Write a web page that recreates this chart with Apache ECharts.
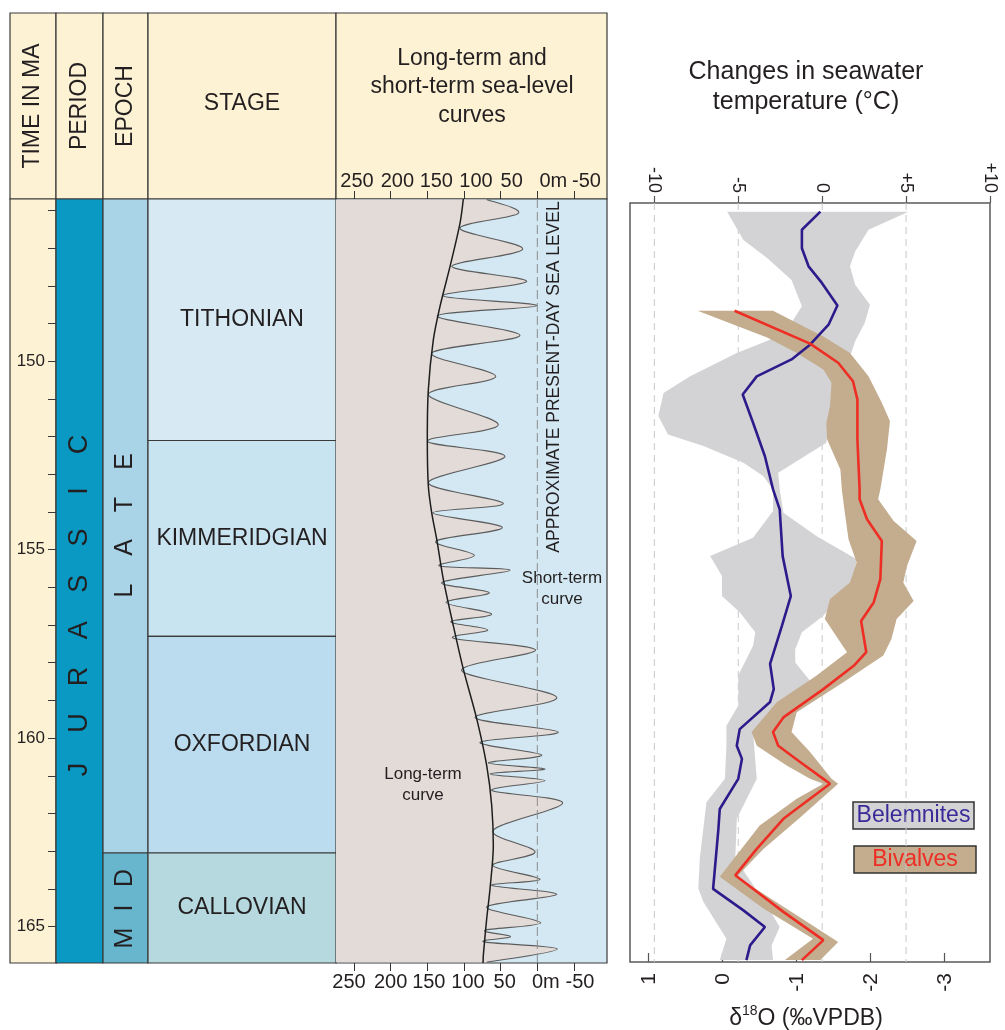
<!DOCTYPE html>
<html><head><meta charset="utf-8">
<script src="https://cdn.jsdelivr.net/npm/echarts@6/dist/echarts.min.js"></script>
<style>html,body{margin:0;padding:0;background:#fff}#c{width:1005px;height:1030px}</style>
</head><body><div id="c"></div>
<script>
// ---------------- DATA ----------------
const timeTicks = [146,147,148,149,150,151,152,153,154,155,156,157,158,159,160,161,162,163,164,165];
const timeLabels = [150,155,160,165];

const periodNames = ['JURASSIC'];
const periodTop = [145.0];
const periodBase = [201.3];

const epochNames = ['LATE','MID'];
const epochTop = [145.0, 163.05];
const epochBase = [163.05, 174.1];

const stageNames = ['TITHONIAN','KIMMERIDGIAN','OXFORDIAN','CALLOVIAN'];
const stageTop = [145.0, 152.1, 157.3, 163.05];
const stageBase = [152.1, 157.3, 163.05, 166.1];

const seaLevelTicks = [250,200,150,100,50,0,-50];

const longTermMa = [145.69,146.33,147.48,148.54,149.43,150.75,152.07,153.31,154.02,154.72,155.78,157.02,158.17,159.49,160.73,161.79,162.85,164.0,164.79,165.76,165.97];
const longTermM  = [100.9,105.4,119.0,132.7,141.8,148.6,150.0,148.6,144.0,137.2,128.2,114.5,100.9,82.6,69.0,62.2,60.0,64.5,69.0,73.6,74.0];

const shortTermMa = [145.70,146.07,146.47,147.02,147.48,147.88,148.26,148.52,148.79,149.31,149.78,150.40,150.88,151.68,152.12,152.52,153.22,153.77,154.02,154.41,154.77,155.15,155.43,155.54,155.87,156.14,156.40,156.71,156.91,157.13,157.35,157.66,158.21,158.92,159.45,159.84,160.11,160.45,160.66,160.82,160.95,161.13,161.39,161.72,162.45,163.02,163.38,163.75,163.91,164.15,164.48,164.90,165.10,165.27,165.41,165.60,165.95];
const shortTermM  = [69.0,25.9,105.4,19.9,116.7,14.5,129.0,0.8,136.4,23.6,144.0,56.7,148.6,53.2,150.0,44.0,148.6,46.4,142.6,47.7,138.1,85.9,133.6,37.2,130.4,65.5,124.5,62.2,118.1,67.6,114.5,2.2,103.1,-26.5,85.0,-28.6,78.1,-6.0,66.8,-10.5,64.5,-10.5,62.2,-34.6,60.0,3.1,60.8,-3.7,62.2,-26.5,69.0,-4.6,71.3,36.3,72.7,-27.3,69.0];

const d18OTicks = [1,0,-1,-2,-3];
const tempTicks = [-10,-5,0,5,10];
const tempGridLines = [-10,-5,0,5];

const belemMa = [146.03,146.51,147.0,147.48,147.92,148.52,149.03,149.56,149.95,150.40,150.88,151.63,152.52,153.40,153.93,155.17,156.23,157.02,158.03,158.70,159.04,159.76,160.20,160.55,161.08,161.88,162.45,164.0,164.57,165.01,165.50,165.89];
const belemD  = [-1.32,-1.07,-1.07,-1.16,-1.34,-1.55,-1.43,-1.18,-0.93,-0.46,-0.27,-0.41,-0.57,-0.68,-0.77,-0.81,-0.92,-0.80,-0.64,-0.69,-0.64,-0.23,-0.19,-0.26,-0.21,0.04,0.06,0.13,-0.28,-0.57,-0.37,-0.32];

const bivalMa = [148.66,149.53,150.04,150.53,151.01,152.07,153.40,153.66,154.19,154.77,155.78,156.40,156.89,157.72,158.08,158.70,159.45,159.84,160.20,160.64,161.08,161.21,162.14,162.94,163.64,164.61,165.36,165.89];
const bivalD  = [-0.16,-1.18,-1.56,-1.76,-1.82,-1.82,-1.85,-1.85,-1.95,-2.15,-2.13,-2.04,-1.87,-1.94,-1.77,-1.36,-0.82,-0.68,-0.75,-1.05,-1.36,-1.45,-0.82,-0.46,-0.17,-0.82,-1.36,-1.07];

// uncertainty envelopes: [d18O, Ma]
const belemBandLeft = [[-0.06,146.03],[-0.28,146.78],[-0.60,147.26],[-0.93,147.84],[-1.07,148.54],[-0.93,148.98],[-0.64,149.43],[-0.19,149.78],[0.44,150.40],[0.80,150.84],[0.87,151.45],[0.74,151.94],[0.26,152.25],[-0.28,152.69],[-0.55,153.05],[-0.68,153.40],[-0.68,153.97],[-0.41,154.68],[0.17,155.17],[0.01,155.70],[0.01,156.23],[-0.23,156.66],[-0.44,157.19],[-0.41,157.55],[-0.21,158.34],[-0.21,159.14],[-0.05,159.67],[-0.05,160.20],[-0.03,161.08],[0.22,161.70],[0.31,163.20],[0.33,163.99],[0.26,164.35],[-0.05,165.32],[0.04,165.89]];
const belemBandRight = [[-2.51,146.03],[-1.97,146.51],[-1.79,147.09],[-1.72,147.48],[-1.79,147.97],[-1.99,148.50],[-1.92,148.98],[-1.79,149.47],[-1.72,149.87],[-1.49,150.40],[-1.47,151.10],[-1.40,152.16],[-0.75,152.96],[-0.77,153.40],[-0.82,154.02],[-1.27,154.64],[-1.81,155.25],[-1.77,155.78],[-1.36,156.75],[-1.07,157.19],[-0.98,157.64],[-0.98,157.99],[-1.18,158.48],[-1.09,158.87],[-0.62,159.31],[-0.41,159.84],[-0.46,161.08],[-0.19,162.14],[-0.17,163.20],[-0.60,164.44],[-0.77,165.01],[-0.66,165.50],[-0.68,165.89]];
const bivalBandLeft = [[0.34,148.66],[-0.60,149.37],[-1.00,149.78],[-1.36,150.22],[-1.47,150.57],[-1.45,151.19],[-1.40,151.63],[-1.41,152.07],[-1.59,152.87],[-1.61,153.40],[-1.65,154.02],[-1.70,154.72],[-1.81,155.34],[-1.72,155.87],[-1.45,156.31],[-1.38,156.84],[-1.68,157.72],[-1.27,158.34],[-0.73,159.05],[-0.39,159.84],[-0.46,160.20],[-0.87,160.73],[-1.18,161.08],[-1.36,161.21],[-1.00,161.61],[-0.50,162.32],[0.04,163.68],[-0.55,164.52],[-1.22,165.32],[-0.84,165.89]];
const bivalBandRight = [[-0.68,148.66],[-1.36,149.34],[-1.72,149.78],[-1.97,150.40],[-2.15,151.10],[-2.26,151.59],[-2.22,152.33],[-2.13,153.40],[-2.10,153.66],[-2.31,154.24],[-2.62,154.77],[-2.49,155.43],[-2.44,155.87],[-2.58,156.36],[-2.35,156.84],[-2.28,157.37],[-2.17,157.81],[-1.63,158.52],[-1.00,159.31],[-0.93,159.84],[-1.18,160.37],[-1.47,161.08],[-1.56,161.21],[-1.05,162.10],[-0.55,162.94],[-0.19,163.68],[-1.00,164.70],[-1.56,165.41],[-1.32,165.89]];

// ---------------- STYLE ----------------
const FONT = '"Liberation Sans", Arial, sans-serif';
const INK = '#231f20';
const LINE = '#3a3a3a';
const CREAM = '#fdf2d4';
const periodColors = ['#0a99c2'];
const epochColors = ['#a9d4e7', '#67b6cd'];
const stageColors = ['#d7eaf4', '#c9e4f1', '#badcee', '#b6d9df'];
const SEA_BG = '#d3e8f2';
const BEIGE = '#e2dbd8';
const GREY_BAND = '#d3d3d5';
const TAN_BAND = '#c3ad8e';
const BLUE = '#2d1b8c';
const RED = '#ee2d24';
const TEMP_LABEL_SIZE = 18;
// horizontal label nudges (px) for the sea-level scale, matching the original typesetting
const seaTopLabelShift = [3, 6.7, 9, 12, 11, 16, 12.5];
const seaBottomLabelShift = [-5, 0, 1.5, 4, 4, 8.5, 6];

const timeMin = 145.69, timeMax = 165.97;
const rTimeMin = 145.80, rTimeMax = 165.94;

function makeCellRender(names, tops, bases, colors, opt) {
  return function (params, api) {
    const i = params.dataIndex;
    const cs = params.coordSys;
    const yA = Math.max(api.coord([0, tops[i]])[1], cs.y);
    const yB = Math.min(api.coord([0, bases[i]])[1], cs.y + cs.height);
    const children = [{
      type: 'rect',
      shape: { x: cs.x, y: yA, width: cs.width, height: yB - yA },
      style: { fill: colors[i], stroke: LINE, lineWidth: 1.2 }
    }];
    const cx = cs.x + cs.width / 2;
    const cy = (yA + yB) / 2 + (opt.shift ? opt.shift[i] : 0);
    if (opt.step) {
      const letters = names[i].split('');
      const n = letters.length;
      letters.forEach(function (ch, k) {
        children.push({
          type: 'text', x: cx, y: cy + ((n - 1) / 2 - k) * opt.step[i], rotation: Math.PI / 2,
          style: { text: ch, fill: INK, fontSize: opt.fontSize, fontFamily: FONT, align: 'center', verticalAlign: 'middle' }
        });
      });
    } else {
      children.push({
        type: 'text', x: cx, y: cy,
        style: { text: names[i], fill: INK, fontSize: opt.fontSize, fontFamily: FONT, align: 'center', verticalAlign: 'middle' }
      });
    }
    return { type: 'group', children: children };
  };
}

function smoothPath(pts, k) {
  const f = function (p) { return p[0].toFixed(2) + ' ' + p[1].toFixed(2); };
  let d = 'M' + f(pts[0]);
  for (let i = 0; i < pts.length - 1; i++) {
    const p0 = pts[i - 1] || pts[i], p1 = pts[i], p2 = pts[i + 1], p3 = pts[i + 2] || pts[i + 1];
    const c1 = [p1[0] + (p2[0] - p0[0]) * k, p1[1] + (p2[1] - p0[1]) * k];
    const c2 = [p2[0] - (p3[0] - p1[0]) * k, p2[1] - (p3[1] - p1[1]) * k];
    d += ' C' + f(c1) + ' ' + f(c2) + ' ' + f(p2);
  }
  return d;
}

function bandRender(leftEdge, rightEdge, color) {
  return function (params, api) {
    if (params.dataIndex !== 0) return;
    const pts = leftEdge.map(function (p) { return api.coord(p); })
      .concat(rightEdge.slice().reverse().map(function (p) { return api.coord(p); }));
    return { type: 'polygon', shape: { points: pts }, style: { fill: color, stroke: null } };
  };
}

function vLineRender(values, stroke, dash) {
  return function (params, api) {
    const cs = params.coordSys;
    const x = api.coord([values[params.dataIndex], api.value(1)])[0];
    return { type: 'line', shape: { x1: x, y1: cs.y, x2: x, y2: cs.y + cs.height },
      style: { stroke: stroke, lineWidth: 1, lineDash: dash } };
  };
}

function seaLabel(shifts) {
  const rich = {};
  shifts.forEach(function (s, i) {
    rich['o' + i] = { fontSize: 20, fontFamily: FONT, color: INK,
      padding: s >= 0 ? [0, 0, 0, 2 * s] : [0, -2 * s, 0, 0] };
  });
  return {
    formatter: function (v) {
      const r = Math.round(v);
      const i = seaLevelTicks.indexOf(r);
      return '{o' + i + '|' + (r === 0 ? '0m' : String(r)) + '}';
    },
    rich: rich
  };
}

// temperature labels: rotated, their far ends aligned (as in the original)
const tempText = function (v) { v = Math.round(v); return v > 0 ? '+' + v : String(v); };
const measureCtx = document.createElement('canvas').getContext('2d');
measureCtx.font = TEMP_LABEL_SIZE + 'px ' + FONT;
const tempWidths = tempTicks.map(function (v) { return measureCtx.measureText(tempText(v)).width; });
const tempMaxW = Math.max.apply(null, tempWidths);
const tempRich = {};
tempTicks.forEach(function (v, i) {
  tempRich['t' + i] = { fontSize: TEMP_LABEL_SIZE, fontFamily: FONT, color: INK, padding: [0, 0, 0, tempMaxW - tempWidths[i]] };
});

const hiddenX = function (g) { return { gridIndex: g, type: 'value', min: 0, max: 1, show: false }; };
const hiddenY = function (g, mn, mx) { return { gridIndex: g, type: 'value', inverse: true, min: mn, max: mx, show: false, axisLine: { onZero: false } }; };

const chart = echarts.init(document.getElementById('c'), null, { renderer: 'canvas' });

const hdrText = function (t, x, y, rot, size) {
  return { type: 'text', x: x, y: y, rotation: rot, z: 50,
    style: { text: t, fill: INK, fontSize: size, fontFamily: FONT, align: 'center', verticalAlign: 'middle', lineHeight: 28.5 } };
};
const hdrRect = function (x1, x2) {
  return { type: 'rect', z: -10, shape: { x: x1, y: 13, width: x2 - x1, height: 186 },
    style: { fill: CREAM, stroke: LINE, lineWidth: 1.2 } };
};

const topSea = seaLabel(seaTopLabelShift);
const botSea = seaLabel(seaBottomLabelShift);

const option = {
  animation: false,
  backgroundColor: '#ffffff',
  grid: [
    { left: 10, top: 199, width: 46, height: 764, show: true, backgroundColor: CREAM, borderColor: LINE, borderWidth: 1.2 },
    { left: 56, top: 199, width: 47, height: 764 },
    { left: 103, top: 199, width: 45, height: 764 },
    { left: 148, top: 199, width: 188, height: 764 },
    { left: 336, top: 199, width: 271, height: 764, show: true, backgroundColor: SEA_BG, borderColor: LINE, borderWidth: 1.2 },
    { left: 630, top: 203, width: 360, height: 759, show: true, backgroundColor: '#fff', borderColor: '#5a5a5a', borderWidth: 1.5 }
  ],
  xAxis: [
    hiddenX(0), hiddenX(1), hiddenX(2), hiddenX(3),
    { gridIndex: 4, type: 'value', position: 'top', inverse: true, min: -95, max: 274.5,
      axisLine: { show: false, onZero: false }, splitLine: { show: false },
      axisTick: { show: true, length: 8, customValues: seaLevelTicks, lineStyle: { color: '#333', width: 1 } },
      axisLabel: { show: true, customValues: seaLevelTicks, margin: 8, fontSize: 20, color: INK, fontFamily: FONT,
        formatter: topSea.formatter, rich: topSea.rich } },
    { gridIndex: 4, type: 'value', position: 'bottom', inverse: true, min: -95, max: 274.5,
      axisLine: { show: false, onZero: false }, splitLine: { show: false },
      axisTick: { show: true, length: 8, customValues: seaLevelTicks, lineStyle: { color: '#333', width: 1 } },
      axisLabel: { show: true, customValues: seaLevelTicks, margin: 9, fontSize: 20, color: INK, fontFamily: FONT,
        formatter: botSea.formatter, rich: botSea.rich } },
    { gridIndex: 5, type: 'value', position: 'bottom', inverse: true, min: -3.612, max: 1.253,
      axisLine: { show: false, onZero: false }, splitLine: { show: false },
      axisTick: { show: true, inside: true, length: 9, customValues: d18OTicks, lineStyle: { color: '#555', width: 1.2 } },
      axisLabel: { show: true, rotate: 90, customValues: d18OTicks, margin: 11, fontSize: 21, color: INK, fontFamily: FONT,
        formatter: function (v) { return String(Math.round(v)); } } },
    { gridIndex: 5, type: 'value', position: 'top', min: -11.45, max: 10,
      axisLine: { show: false, onZero: false }, splitLine: { show: false },
      axisTick: { show: true, length: 7, customValues: tempTicks, lineStyle: { color: '#555', width: 1.2 } },
      axisLabel: { show: true, rotate: 90, customValues: tempTicks, margin: 10, fontSize: TEMP_LABEL_SIZE, color: INK, fontFamily: FONT,
        formatter: function (v) { const i = tempTicks.indexOf(Math.round(v)); return '{t' + i + '|' + tempText(v) + '}'; },
        rich: tempRich } }
  ],
  yAxis: [
    { gridIndex: 0, type: 'value', inverse: true, min: timeMin, max: timeMax, position: 'right',
      axisLine: { show: true, onZero: false, lineStyle: { color: LINE, width: 1.2 } }, splitLine: { show: false },
      axisTick: { show: true, inside: true, length: 8, customValues: timeTicks, lineStyle: { color: LINE, width: 1 } },
      axisLabel: { show: true, inside: true, margin: 11, customValues: timeLabels, fontSize: 17, color: INK, fontFamily: FONT } },
    hiddenY(1, timeMin, timeMax), hiddenY(2, timeMin, timeMax), hiddenY(3, timeMin, timeMax), hiddenY(4, timeMin, timeMax),
    hiddenY(5, rTimeMin, rTimeMax)
  ],
  graphic: [
    hdrRect(10, 56), hdrRect(56, 103), hdrRect(103, 148), hdrRect(148, 336), hdrRect(336, 607),
    hdrText('TIME IN MA', 33, 106, Math.PI / 2, 23),
    hdrText('PERIOD', 80, 106, Math.PI / 2, 23),
    hdrText('EPOCH', 125.5, 106, Math.PI / 2, 23),
    hdrText('STAGE', 242, 104, 0, 23),
    hdrText('Long-term and\nshort-term sea-level\ncurves', 472, 87, 0, 23),
    { type: 'text', x: 806, y: 87, z: 50,
      style: { text: 'Changes in seawater\ntemperature (°C)', fill: INK, fontSize: 25, fontFamily: FONT, align: 'center', verticalAlign: 'middle', lineHeight: 30 } },
    { type: 'text', x: 554, y: 377, rotation: Math.PI / 2, z: 50,
      style: { text: 'APPROXIMATE PRESENT-DAY SEA LEVEL', fill: INK, fontSize: 17.5, fontFamily: FONT, align: 'center', verticalAlign: 'middle' } },
    { type: 'text', x: 562, y: 589, z: 50,
      style: { text: 'Short-term\ncurve', fill: INK, fontSize: 17, fontFamily: FONT, align: 'center', verticalAlign: 'middle', lineHeight: 21 } },
    { type: 'text', x: 423, y: 785, z: 50,
      style: { text: 'Long-term\ncurve', fill: INK, fontSize: 17, fontFamily: FONT, align: 'center', verticalAlign: 'middle', lineHeight: 21 } },
    { type: 'text', x: 806, y: 1017, z: 50,
      style: { text: '{a|δ}{s|18}{a|O (‰VPDB)}', align: 'center', verticalAlign: 'middle',
        rich: { a: { fontSize: 23, fontFamily: FONT, fill: INK, lineHeight: 26, verticalAlign: 'bottom' },
                s: { fontSize: 14, fontFamily: FONT, fill: INK, lineHeight: 16, verticalAlign: 'top' } } } },
    { type: 'group', z: 60, children: [
      { type: 'rect', shape: { x: 853, y: 802, width: 121, height: 27 }, style: { fill: GREY_BAND, stroke: '#333', lineWidth: 1.5 } },
      { type: 'text', x: 913.5, y: 815.5, style: { text: 'Belemnites', fill: '#3a2a98', fontSize: 23, fontFamily: FONT, align: 'center', verticalAlign: 'middle' } },
      { type: 'rect', shape: { x: 854, y: 846, width: 122, height: 27 }, style: { fill: TAN_BAND, stroke: '#333', lineWidth: 1.5 } },
      { type: 'text', x: 915, y: 859.5, style: { text: 'Bivalves', fill: RED, fontSize: 23, fontFamily: FONT, align: 'center', verticalAlign: 'middle' } }
    ] }
  ],
  series: [
    { type: 'custom', xAxisIndex: 1, yAxisIndex: 1, silent: true, z: 2,
      data: periodTop.map(function (t, i) { return [0.5, t, periodBase[i]]; }),
      renderItem: makeCellRender(periodNames, periodTop, periodBase, periodColors, { step: [46.4], fontSize: 27, shift: [26] }) },
    { type: 'custom', xAxisIndex: 2, yAxisIndex: 2, silent: true, z: 2,
      data: epochTop.map(function (t, i) { return [0.5, t, epochBase[i]]; }),
      renderItem: makeCellRender(epochNames, epochTop, epochBase, epochColors, { step: [43, 30], fontSize: 25 }) },
    { type: 'custom', xAxisIndex: 3, yAxisIndex: 3, silent: true, z: 2,
      data: stageTop.map(function (t, i) { return [0.5, t, stageBase[i]]; }),
      renderItem: makeCellRender(stageNames, stageTop, stageBase, stageColors, { fontSize: 23 }) },
    { type: 'custom', xAxisIndex: 4, yAxisIndex: 4, silent: true, z: 2,
      data: [[shortTermM[0], shortTermMa[0]]],
      renderItem: function (params, api) {
        const cs = params.coordSys;
        const pts = shortTermM.map(function (m, i) { return api.coord([m, shortTermMa[i]]); });
        const curve = smoothPath(pts, 1 / 6);
        const first = pts[0], last = pts[pts.length - 1];
        const fillD = curve + ' L' + cs.x + ' ' + last[1] + ' L' + cs.x + ' ' + first[1] + ' Z';
        return { type: 'group', children: [
          { type: 'path', shape: { pathData: fillD }, style: { fill: BEIGE, stroke: null } },
          { type: 'path', shape: { pathData: curve }, style: { fill: 'none', stroke: '#5c5c5c', lineWidth: 1.1 } }
        ] };
      } },
    { type: 'line', xAxisIndex: 4, yAxisIndex: 4, silent: true, z: 4, smooth: 0.3, showSymbol: false,
      data: longTermM.map(function (m, i) { return [m, longTermMa[i]]; }),
      lineStyle: { color: '#1e1e1e', width: 1.5 } },
    { type: 'custom', xAxisIndex: 4, yAxisIndex: 4, silent: true, z: 5,
      data: [[0, 150]],
      renderItem: vLineRender([0], '#8c8c8c', [9, 4]) },
    { type: 'custom', xAxisIndex: 7, yAxisIndex: 5, silent: true, z: 1,
      data: tempGridLines.map(function (v) { return [v, 150]; }),
      renderItem: vLineRender(tempGridLines, '#c9c9c9', [7, 5]) },
    { type: 'custom', xAxisIndex: 6, yAxisIndex: 5, silent: true, z: 2,
      data: [belemBandLeft[0]],
      renderItem: bandRender(belemBandLeft, belemBandRight, GREY_BAND) },
    { type: 'custom', xAxisIndex: 6, yAxisIndex: 5, silent: true, z: 3,
      data: [bivalBandLeft[0]],
      renderItem: bandRender(bivalBandLeft, bivalBandRight, TAN_BAND) },
    { type: 'line', name: 'Belemnites', xAxisIndex: 6, yAxisIndex: 5, silent: true, z: 5, showSymbol: false,
      data: belemD.map(function (d, i) { return [d, belemMa[i]]; }),
      lineStyle: { color: BLUE, width: 2.6 } },
    { type: 'line', name: 'Bivalves', xAxisIndex: 6, yAxisIndex: 5, silent: true, z: 6, showSymbol: false,
      data: bivalD.map(function (d, i) { return [d, bivalMa[i]]; }),
      lineStyle: { color: RED, width: 2.6 } }
  ]
};
chart.setOption(option);
</script></body></html>
